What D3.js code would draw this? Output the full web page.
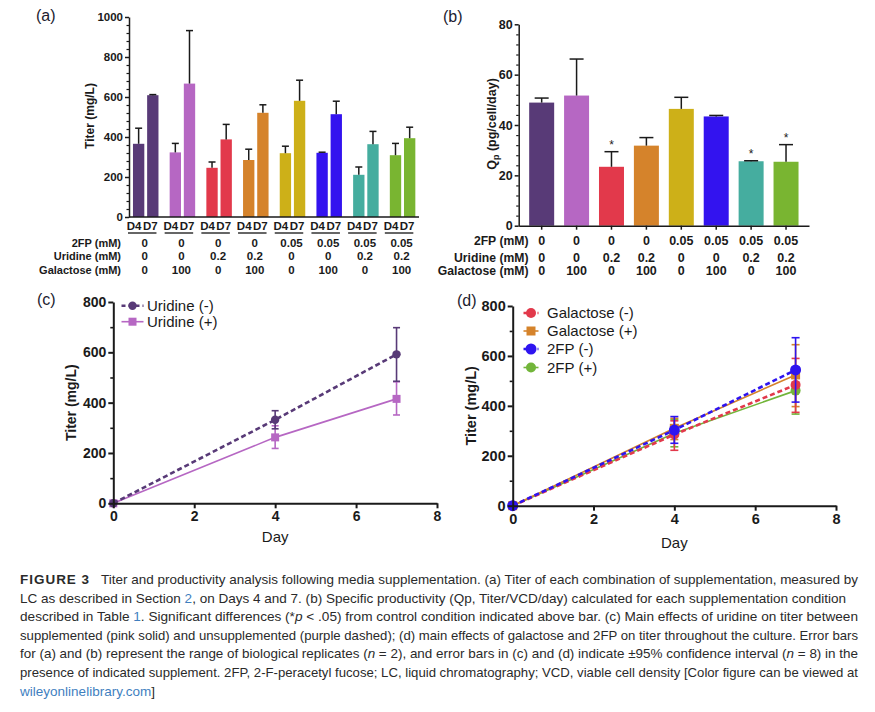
<!DOCTYPE html>
<html><head><meta charset="utf-8">
<script src="https://cdn.jsdelivr.net/npm/d3@7"></script>
<style>body{margin:0;background:#fff} svg{display:block;font-family:"Liberation Sans",Arial,sans-serif}</style>
</head><body><svg id="c" width="875" height="712"></svg>
<script>
// ---------- DATA ----------
const groups = ["C1","C2","C3","C4","C5","C6","C7","C8"];
const days = ["D4","D7"];
const fp2Row = ["0","0","0","0","0.05","0.05","0.05","0.05"];
const uridineRow = ["0","0","0.2","0.2","0","0","0.2","0.2"];
const galactoseRow = ["0","100","0","100","0","100","0","100"];
const rowLabels = ["2FP (mM)","Uridine (mM)","Galactose (mM)"];
const barColors = ["#583a77","#b667c3","#e2394b","#d5832b","#cdb018","#3313ef","#45ad9f","#79b531"];
// (a) titer mean and upper end of range
const titerD4 = [366,323,246,285,319,321,211,309];
const titerD4Hi = [444,368,275,339,354,324,250,368];
const titerD7 = [609,667,388,521,581,514,364,394];
const titerD7Hi = [612,932,463,561,684,579,428,449];
const titerTicks = [0,200,400,600,800,1000];
// (b) Qp
const qp = [48.9,51.7,23.4,31.8,46.4,43.4,25.6,25.4];
const qpHi = [50.7,66.2,29.4,35.0,51.0,43.8,25.8,32.2];
const qpSig = [false,false,true,false,false,false,true,true];
const qpTicks = [0,20,40,60,80];
// (c) and (d) time course
const dayVals = [0,4,7];
const dayTicks = [0,2,4,6,8];
const lineTicks = [0,200,400,600,800];
const uriNeg = [0,332,592], uriNegLo = [0,296,485], uriNegHi = [0,368,698];
const uriPos = [0,262,415], uriPosLo = [0,218,351], uriPosHi = [0,308,483];
const galNeg = [0,285,484], galNegLo = [0,222,374], galNegHi = [0,340,590];
const galPos = [0,310,524], galPosLo = [0,265,397], galPosHi = [0,350,645];
const fpNeg = [0,303,544], fpNegLo = [0,250,415], fpNegHi = [0,357,673];
const fpPos = [0,290,461], fpPosLo = [0,236,367], fpPosHi = [0,345,555];

const svg = d3.select("#c");
const INK = "#1a1a1a";

function yAxis(g, y, x0, majors, minorStep, fs, sw, majLen, minLen) {
  const [d0, d1] = y.domain();
  const minors = d3.range(d0, d1 + 1e-9, minorStep).filter(v => !majors.some(m => Math.abs(m - v) < 1e-9));
  g.append("g").attr("transform", `translate(${x0},0)`)
    .call(d3.axisLeft(y).tickValues(minors).tickFormat("").tickSize(minLen).tickSizeOuter(0))
    .call(s => s.select(".domain").remove())
    .call(s => s.selectAll("line").attr("stroke", INK).attr("stroke-width", sw * 0.8));
  g.append("g").attr("transform", `translate(${x0},0)`)
    .call(d3.axisLeft(y).tickValues(majors).tickFormat(d3.format("d")).tickSize(majLen).tickSizeOuter(0).tickPadding(2))
    .call(s => s.select(".domain").attr("stroke", INK).attr("stroke-width", sw))
    .call(s => s.selectAll("line").attr("stroke", INK).attr("stroke-width", sw))
    .call(s => s.selectAll("text").attr("font-family", "Liberation Sans, Arial, sans-serif").attr("font-size", fs).attr("font-weight", "bold").attr("fill", INK));
}

function panelLabel(t, x, y) {
  svg.append("text").attr("x", x).attr("y", y).attr("font-size", 16).attr("fill", "#1c1c30").text(t);
}

// ---------- PANEL (a) ----------
{
  const g = svg.append("g");
  const y = d3.scaleLinear().domain([0, 1000]).range([217, 17]);
  const xg = d3.scaleBand().domain(groups).range([129.3, 419]).paddingInner(0.305).paddingOuter(0.1);
  const xd = d3.scaleBand().domain(days).range([0, xg.bandwidth()]).paddingInner(0.2);
  const vals = [titerD4, titerD7], his = [titerD4Hi, titerD7Hi];
  const labShift = [-4.5, -2.5];
  groups.forEach((gr, i) => {
    days.forEach((d, j) => {
      const x = xg(gr) + xd(d), w = xd.bandwidth(), cx = x + w / 2;
      g.append("rect").attr("x", x).attr("y", y(vals[j][i])).attr("width", w)
        .attr("height", y(0) - y(vals[j][i])).attr("fill", barColors[i]);
      g.append("line").attr("x1", cx).attr("x2", cx).attr("y1", y(vals[j][i])).attr("y2", y(his[j][i]))
        .attr("stroke", INK).attr("stroke-width", 1.5);
      g.append("line").attr("x1", cx - 3.5).attr("x2", cx + 3.5).attr("y1", y(his[j][i])).attr("y2", y(his[j][i]))
        .attr("stroke", INK).attr("stroke-width", 1.5);
      g.append("text").attr("x", cx + labShift[j]).attr("y", 230).attr("text-anchor", "middle")
        .attr("font-size", 11.5).attr("font-weight", "bold").attr("fill", INK).text(d);
    });
    g.append("line").attr("x1", xg(gr) - 5).attr("x2", xg(gr) + xg.bandwidth() - 2)
      .attr("y1", 233).attr("y2", 233).attr("stroke", "#333").attr("stroke-width", 1.5);
    [fp2Row, uridineRow, galactoseRow].forEach((row, r) => {
      g.append("text").attr("x", xg(gr) + xg.bandwidth() / 2 - 1).attr("y", [247, 260, 273.5][r])
        .attr("text-anchor", "middle").attr("font-size", 11.5).attr("font-weight", "bold").attr("fill", INK).text(row[i]);
    });
  });
  rowLabels.forEach((t, r) => {
    g.append("text").attr("x", 121).attr("y", [247, 260, 273.5][r]).attr("text-anchor", "end")
      .attr("font-size", 11).attr("font-weight", "bold").attr("fill", INK).text(t);
  });
  yAxis(g, y, 129, titerTicks, 40, 11.5, 1.5, 4, 2.5);
  g.append("line").attr("x1", 129).attr("x2", 419).attr("y1", y(0)).attr("y2", y(0)).attr("stroke", INK).attr("stroke-width", 1.5);
  g.append("text").attr("transform", "translate(94,116) rotate(-90)").attr("text-anchor", "middle")
    .attr("font-size", 12).attr("font-weight", "bold").attr("fill", INK).text("Titer (mg/L)");
  panelLabel("(a)", 36, 21);
}

// ---------- PANEL (b) ----------
{
  const g = svg.append("g");
  const y = d3.scaleLinear().domain([0, 80]).range([225.7, 24.3]);
  const x = d3.scaleBand().domain(groups).range([518.7, 809]).paddingInner(0.284).paddingOuter(0.3);
  groups.forEach((gr, i) => {
    const cx = x(gr) + x.bandwidth() / 2;
    g.append("rect").attr("x", x(gr)).attr("y", y(qp[i])).attr("width", x.bandwidth())
      .attr("height", y(0) - y(qp[i])).attr("fill", barColors[i]);
    g.append("line").attr("x1", cx).attr("x2", cx).attr("y1", y(qp[i])).attr("y2", y(qpHi[i])).attr("stroke", INK).attr("stroke-width", 1.5);
    g.append("line").attr("x1", cx - 7).attr("x2", cx + 7).attr("y1", y(qpHi[i])).attr("y2", y(qpHi[i])).attr("stroke", INK).attr("stroke-width", 1.5);
    if (qpSig[i]) g.append("text").attr("x", cx).attr("y", y(qpHi[i]) - 3).attr("text-anchor", "middle")
      .attr("font-size", 12).attr("fill", INK).text("*");
    [fp2Row, uridineRow, galactoseRow].forEach((row, r) => {
      g.append("text").attr("x", cx).attr("y", [245, 261.5, 275][r]).attr("text-anchor", "middle")
        .attr("font-size", 12.5).attr("font-weight", "bold").attr("fill", INK).text(row[i]);
    });
  });
  rowLabels.forEach((t, r) => {
    g.append("text").attr("x", 528.5).attr("y", [245, 261.5, 275][r]).attr("text-anchor", "end")
      .attr("font-size", 12.2).attr("font-weight", "bold").attr("fill", INK).text(t);
  });
  yAxis(g, y, 518.7, qpTicks, 4, 12.5, 1.5, 4, 2.5);
  g.append("g").attr("transform", `translate(0,${y(0)})`)
    .call(d3.axisBottom(x).tickFormat("").tickSize(4).tickSizeOuter(0))
    .call(s => s.select(".domain").attr("stroke", INK).attr("stroke-width", 1.5))
    .call(s => s.selectAll("line").attr("stroke", INK).attr("stroke-width", 1.5));
  const t = g.append("text").attr("transform", "translate(496,124) rotate(-90)").attr("text-anchor", "middle")
    .attr("font-size", 12.5).attr("font-weight", "bold").attr("fill", INK);
  t.append("tspan").text("Q");
  t.append("tspan").attr("font-size", 9).attr("dy", 3).text("p");
  t.append("tspan").attr("dy", -3).text(" (pg/cell/day)");
  panelLabel("(b)", 443, 22);
}

// ---------- line panels helper ----------
function marker(g, shape, cx, cy, size, color) {
  if (shape === "square") g.append("rect").attr("x", cx - size).attr("y", cy - size).attr("width", size * 2).attr("height", size * 2).attr("fill", color);
  else g.append("circle").attr("cx", cx).attr("cy", cy).attr("r", size).attr("fill", color);
}
function linePanel(cfg) {
  const g = svg.append("g");
  const x = d3.scaleLinear().domain([0, 8]).range(cfg.xr);
  const y = d3.scaleLinear().domain([0, 800]).range(cfg.yr);
  cfg.series.forEach(s => {
    const line = d3.line().x((d, i) => x(dayVals[i])).y(d => y(d));
    g.append("path").datum(s.v).attr("d", line).attr("fill", "none").attr("stroke", s.color)
      .attr("stroke-width", s.dash ? 2.6 : 1.6).attr("stroke-dasharray", s.dash ? "5,3" : null);
    s.v.forEach((v, i) => {
      if (i === 0) return;
      const cx = x(dayVals[i]);
      g.append("line").attr("x1", cx).attr("x2", cx).attr("y1", y(s.lo[i])).attr("y2", y(s.hi[i])).attr("stroke", s.color).attr("stroke-width", 1.6);
      [s.lo[i], s.hi[i]].forEach(e => g.append("line").attr("x1", cx - cfg.cap).attr("x2", cx + cfg.cap)
        .attr("y1", y(e)).attr("y2", y(e)).attr("stroke", s.color).attr("stroke-width", 1.6));
    });
    s.v.forEach((v, i) => marker(g, s.shape, x(dayVals[i]), y(v), s.size, s.color));
  });
  // axes
  yAxis(g, y, cfg.xr[0], lineTicks, 100, cfg.fs, 2, 5, 3);
  g.append("g").attr("transform", `translate(0,${cfg.yr[0]})`)
    .call(d3.axisBottom(x).tickValues(dayTicks).tickSize(5).tickSizeOuter(0).tickPadding(3))
    .call(s => s.select(".domain").attr("stroke", INK).attr("stroke-width", 2))
    .call(s => s.selectAll("line").attr("stroke", INK).attr("stroke-width", 2))
    .call(s => s.selectAll("text").attr("font-family", "Liberation Sans, Arial, sans-serif").attr("font-size", cfg.fs).attr("font-weight", "bold").attr("fill", INK));
  g.append("text").attr("x", (cfg.xr[0] + cfg.xr[1]) / 2).attr("y", cfg.dayY).attr("text-anchor", "middle")
    .attr("font-size", 15).attr("fill", INK).text("Day");
  g.append("text").attr("transform", `translate(${cfg.titleX},${(cfg.yr[0] + cfg.yr[1]) / 2}) rotate(-90)`).attr("text-anchor", "middle")
    .attr("font-size", cfg.fs).attr("font-weight", "bold").attr("fill", INK).text("Titer (mg/L)");
  // legend
  cfg.legend.forEach((s, k) => {
    const ly = cfg.legY[k];
    g.append("line").attr("x1", cfg.legX[0]).attr("x2", cfg.legX[1]).attr("y1", ly).attr("y2", ly)
      .attr("stroke", s.color).attr("stroke-width", s.dash ? 2.6 : 1.6).attr("stroke-dasharray", s.dash ? "4,3" : null);
    marker(g, s.shape, (cfg.legX[0] + cfg.legX[1]) / 2, ly, s.size, s.color);
    g.append("text").attr("x", cfg.legX[2]).attr("y", ly).attr("dy", "0.35em").attr("font-size", 15).attr("fill", INK).text(s.name);
  });
}

// ---------- PANEL (c) ----------
{
  const sNeg = {name: "Uridine (-)", v: uriNeg, lo: uriNegLo, hi: uriNegHi, color: "#583a77", dash: true, shape: "circle", size: 4.2};
  const sPos = {name: "Uridine (+)", v: uriPos, lo: uriPosLo, hi: uriPosHi, color: "#b667c3", dash: false, shape: "square", size: 4};
  linePanel({xr: [113.3, 437], yr: [503.3, 302], fs: 14, cap: 3.5, dayY: 542, titleX: 76,
    series: [sPos, sNeg], legend: [sNeg, sPos], legY: [305.7, 321.7], legX: [121.5, 143.5, 147]});
  panelLabel("(c)", 37, 305);
}

// ---------- PANEL (d) ----------
{
  const gN = {name: "Galactose (-)", v: galNeg, lo: galNegLo, hi: galNegHi, color: "#e2394b", dash: true, shape: "circle", size: 5};
  const gP = {name: "Galactose (+)", v: galPos, lo: galPosLo, hi: galPosHi, color: "#d5832b", dash: false, shape: "square", size: 4.5};
  const fN = {name: "2FP (-)", v: fpNeg, lo: fpNegLo, hi: fpNegHi, color: "#2e14f0", dash: true, shape: "circle", size: 5.5};
  const fP = {name: "2FP (+)", v: fpPos, lo: fpPosLo, hi: fpPosHi, color: "#72b53a", dash: false, shape: "circle", size: 5};
  linePanel({xr: [512.7, 836], yr: [505.7, 306], fs: 14.5, cap: 4, dayY: 548, titleX: 476,
    series: [fP, gP, gN, fN], legend: [gN, gP, fN, fP], legY: [313, 331, 349, 367.5], legX: [523.5, 538.5, 547]});
  panelLabel("(d)", 457, 306);
}

// ---------- CAPTION ----------
const captionLines = [
  [{t: "FIGURE 3", b: true}, {t: "   Titer and productivity analysis following media supplementation. (a) Titer of each combination of supplementation, measured by"}],
  [{t: "LC as described in Section "}, {t: "2", c: true}, {t: ", on Days 4 and 7. (b) Specific productivity (Qp, Titer/VCD/day) calculated for each supplementation condition"}],
  [{t: "described in Table "}, {t: "1", c: true}, {t: ". Significant differences (*"}, {t: "p", i: true}, {t: " < .05) from control condition indicated above bar. (c) Main effects of uridine on titer between"}],
  [{t: "supplemented (pink solid) and unsupplemented (purple dashed); (d) main effects of galactose and 2FP on titer throughout the culture. Error bars"}],
  [{t: "for (a) and (b) represent the range of biological replicates ("}, {t: "n", i: true}, {t: " = 2), and error bars in (c) and (d) indicate ±95% confidence interval ("}, {t: "n", i: true}, {t: " = 8) in the"}],
  [{t: "presence of indicated supplement. 2FP, 2-F-peracetyl fucose; LC, liquid chromatography; VCD, viable cell density [Color figure can be viewed at"}],
  [{t: "wileyonlinelibrary.com", c: true}, {t: "]"}]
];
const captionEnds = [858, 846, 858, 858, 858, 858, 155];
captionLines.forEach((segs, k) => {
  const t = svg.append("text").attr("x", 20).attr("y", 584 + k * 18.6)
    .attr("font-family", "Liberation Sans Narrow, Liberation Sans, Arial, sans-serif")
    .attr("font-size", 13.5).attr("fill", "#2a2a2a")
    .attr("textLength", captionEnds[k] - 20).attr("lengthAdjust", "spacingAndGlyphs")
    .attr("xml:space", "preserve");
  segs.forEach(s => {
    const sp = t.append("tspan").text(s.t);
    if (s.b) sp.attr("font-weight", "bold").attr("letter-spacing", 1);
    if (s.i) sp.attr("font-style", "italic");
    if (s.c) sp.attr("fill", "#3f7fbf");
  });
});
</script></body></html>
